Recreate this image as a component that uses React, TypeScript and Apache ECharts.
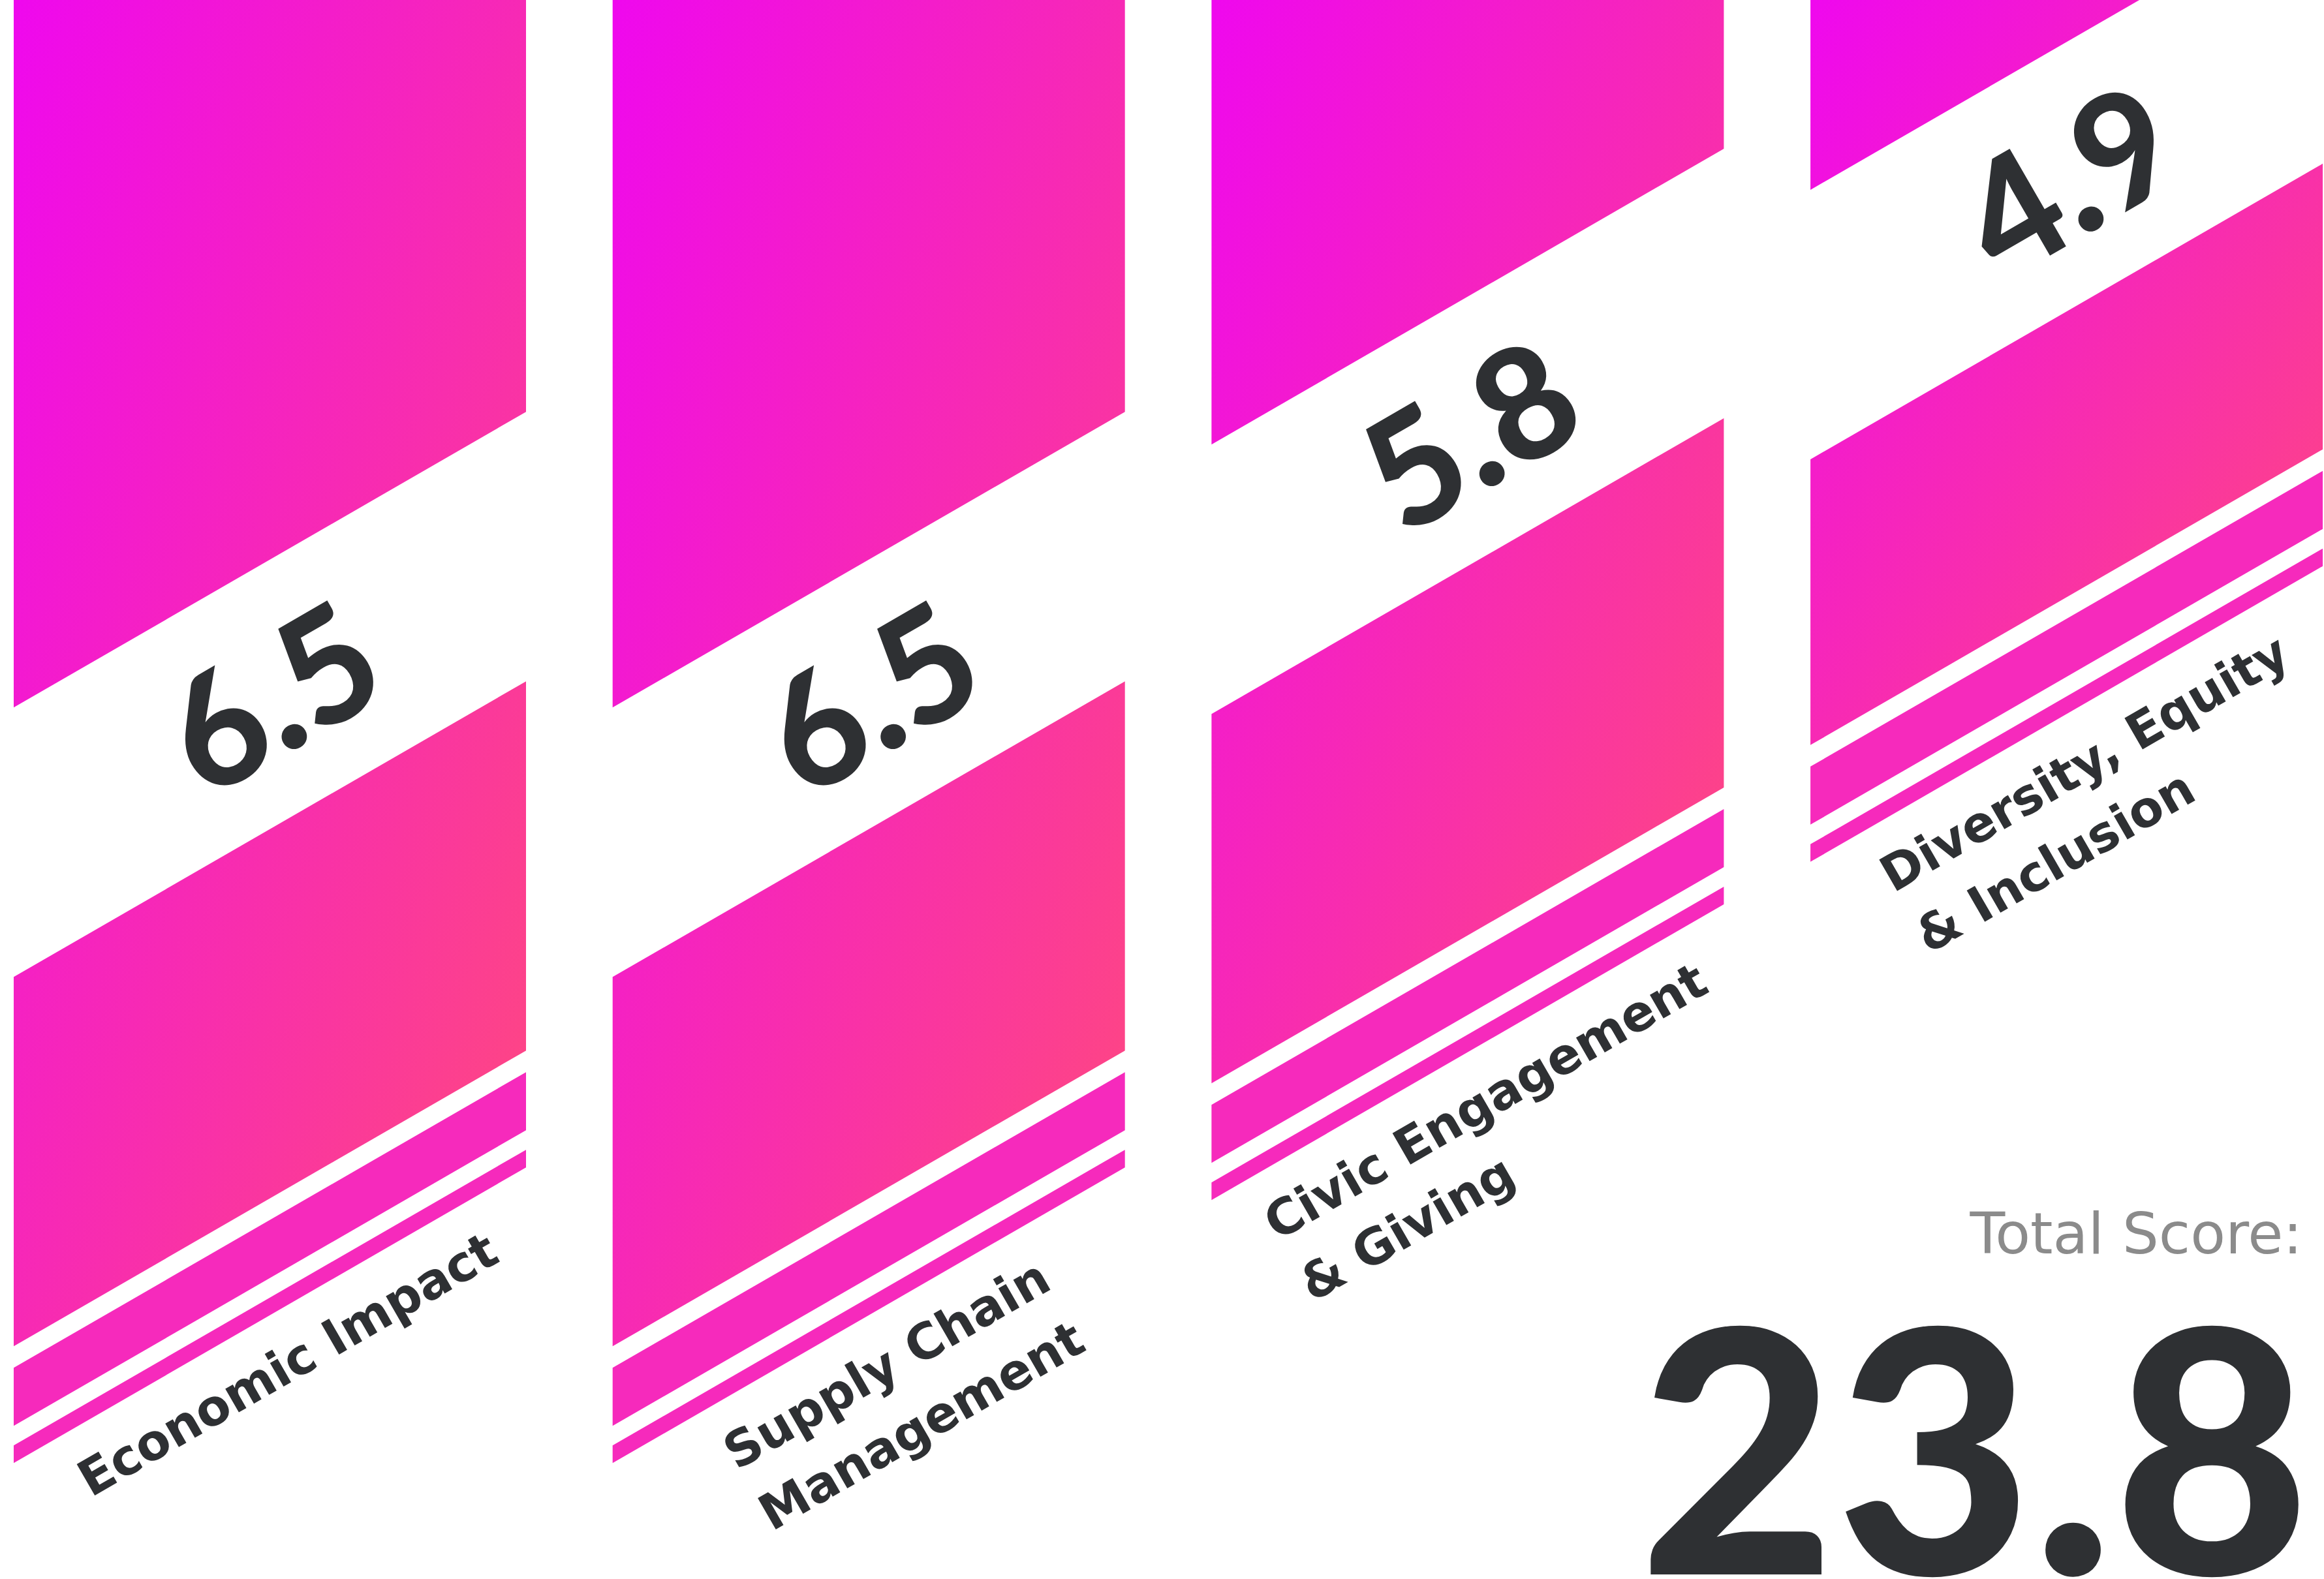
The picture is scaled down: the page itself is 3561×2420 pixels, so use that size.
import React, { useEffect, useRef } from 'react';
import * as echarts from 'echarts';

// ---------- data ----------
const categories: string[] = [
  'Economic Impact',
  'Supply Chain\nManagement',
  'Civic Engagement\n& Giving',
  'Diversity, Equity\n& Inclusion',
];
const scores: number[] = [6.5, 6.5, 5.8, 4.9];
const scoreLabels: string[] = ['6.5', '6.5', '5.8', '4.9'];
const totalTitle = 'Total Score:';
const totalScore = '23.8';

// ---------- layout / style constants ----------
const PAGE_W = 3561;
const PAGE_H = 2420;
const X_MIN = -0.4506;
const X_MAX = 3.4298;
const Y_MIN = 3;
const Y_MAX = 7;
const GRID_TOP = -18.7;
const GRID_BOTTOM = 116.3;
const BAR_FRAC = 0.8554;
const TAN = Math.tan(Math.PI / 6);
const COS = Math.cos(Math.PI / 6);
const SIN = Math.sin(Math.PI / 6);

const STRIPE2 = 27;
const GAP2 = 30;
const STRIPE1 = 89;
const GAP1 = 33;
const LOWER_MAX = 566;
const LOWER_MIN_TOP = 704;
const BAND = 413;

const START_COLOR = '#EF08EE';
const END_COLOR = '#FF4B7B';
const STRIPE_COLOR = '#F62ABC';
const INK = '#2E3033';
const GREY = '#8B8B8B';

const LABEL_FONT_SIZE = 76;
const LABEL_LINE_H = 108;
const LABEL_FAMILY = '"DejaVu Sans", "Noto Sans", sans-serif';
const NUM_FAMILY = 'Lato, "Noto Sans", sans-serif';

function measureMax(text: string): number {
  const c = document.createElement('canvas');
  const ctx = c.getContext('2d');
  if (!ctx) return 0;
  ctx.font = `bold ${LABEL_FONT_SIZE}px ${LABEL_FAMILY}`;
  return Math.max(...text.split('\n').map((l) => ctx.measureText(l).width));
}

export default function App() {
  const ref = useRef<HTMLDivElement | null>(null);

  useEffect(() => {
    if (!ref.current) return;
    const chart = echarts.init(ref.current, undefined, { renderer: 'svg' });

    const renderItem = (params: any, api: any) => {
      const idx = api.value(0);
      const v = api.value(1);
      const [cx, cy] = api.coord([idx, v]);
      const W = api.size([BAR_FRAC, 0])[0];
      const L = cx - W / 2;
      const R = cx + W / 2;
      const h = (W / 2) * TAN;
      const yl = cy + h;
      const yr = cy - h;
      const quad = (o1: number, o2: number) => [
        [L, yl - o1],
        [R, yr - o1],
        [R, yr - o2],
        [L, yl - o2],
      ];
      const s2a = 0;
      const s2b = STRIPE2;
      const s1a = s2b + GAP2;
      const s1b = s1a + STRIPE1;
      const lowA = s1b + GAP1;
      const lowerLen = Math.min(LOWER_MAX, yl - lowA - LOWER_MIN_TOP);
      const lowB = lowA + lowerLen;
      const topA = lowB + BAND;

      const Hh = yl - lowA;
      const a = 0.5 / W;
      const b = 0.5 / Hh;
      const n = a * a + b * b;
      const grad = {
        type: 'linear',
        x: L,
        y: 0,
        x2: L + a / n,
        y2: b / n,
        global: true,
        colorStops: [
          { offset: 0, color: START_COLOR },
          { offset: 1, color: END_COLOR },
        ],
      };

      // value label at band centre
      const yc = cy - lowB - BAND / 2;

      // category label
      const Ax = COS, Ay = -SIN;
      const Nx = SIN, Ny = COS;
      const px = cx - 14 * Ax + 105 * Nx;
      const py = cy - 14 * Ay + 105 * Ny;
      const w1 = measureMax(categories[idx]);
      const firstBase = LABEL_LINE_H / 2 + 0.346 * LABEL_FONT_SIZE;
      const ox = px - (w1 / 2) * Ax - firstBase * Nx;
      const oy = py - (w1 / 2) * Ay - firstBase * Ny;

      return {
        type: 'group',
        children: [
          { type: 'polygon', shape: { points: quad(s2a, s2b) }, style: { fill: STRIPE_COLOR } },
          { type: 'polygon', shape: { points: quad(s1a, s1b) }, style: { fill: STRIPE_COLOR } },
          { type: 'polygon', shape: { points: quad(lowA, lowB) }, style: { fill: grad } },
          { type: 'polygon', shape: { points: quad(topA, 6000) }, style: { fill: grad } },
          {
            type: 'text',
            x: cx,
            y: yc,
            rotation: Math.PI / 6,
            style: {
              text: scoreLabels[idx],
              fontSize: 238,
              fontFamily: NUM_FAMILY,
              fontWeight: 900,
              fill: INK,
              align: 'center',
              verticalAlign: 'middle',
              lineHeight: 200,
            },
          },
          {
            type: 'text',
            x: ox,
            y: oy,
            rotation: Math.PI / 6,
            style: {
              text: categories[idx],
              fontSize: LABEL_FONT_SIZE,
              fontFamily: LABEL_FAMILY,
              fontWeight: 'bold',
              fill: INK,
              align: 'left',
              verticalAlign: 'top',
              lineHeight: LABEL_LINE_H,
            },
          },
        ],
      };
    };

    chart.setOption({
      animation: false,
      grid: { left: 0, right: 0, top: GRID_TOP, bottom: GRID_BOTTOM },
      xAxis: { type: 'value', min: X_MIN, max: X_MAX, show: false },
      yAxis: { type: 'value', inverse: true, min: Y_MIN, max: Y_MAX, show: false },
      series: [
        {
          type: 'custom',
          renderItem,
          encode: { x: 0, y: 1 },
          data: scores.map((v, i) => [i, v]),
        },
      ],
      graphic: [
        {
          type: 'text',
          x: 3528,
          y: 1890,
          style: {
            text: totalTitle,
            fontSize: 88,
            fontFamily: LABEL_FAMILY,
            fill: GREY,
            align: 'right',
            verticalAlign: 'middle',
            lineHeight: 90,
          },
        },
        {
          type: 'text',
          x: 3540,
          y: 2212,
          style: {
            text: totalScore,
            fontSize: 520,
            fontFamily: NUM_FAMILY,
            fontWeight: 900,
            fill: INK,
            align: 'right',
            verticalAlign: 'middle',
            lineHeight: 380,
          },
        },
      ],
    });

    return () => chart.dispose();
  }, []);

  return (
    <div
      ref={ref}
      style={{ position: 'fixed', left: 0, top: 0, width: PAGE_W, height: PAGE_H, background: '#ffffff' }}
    />
  );
}
